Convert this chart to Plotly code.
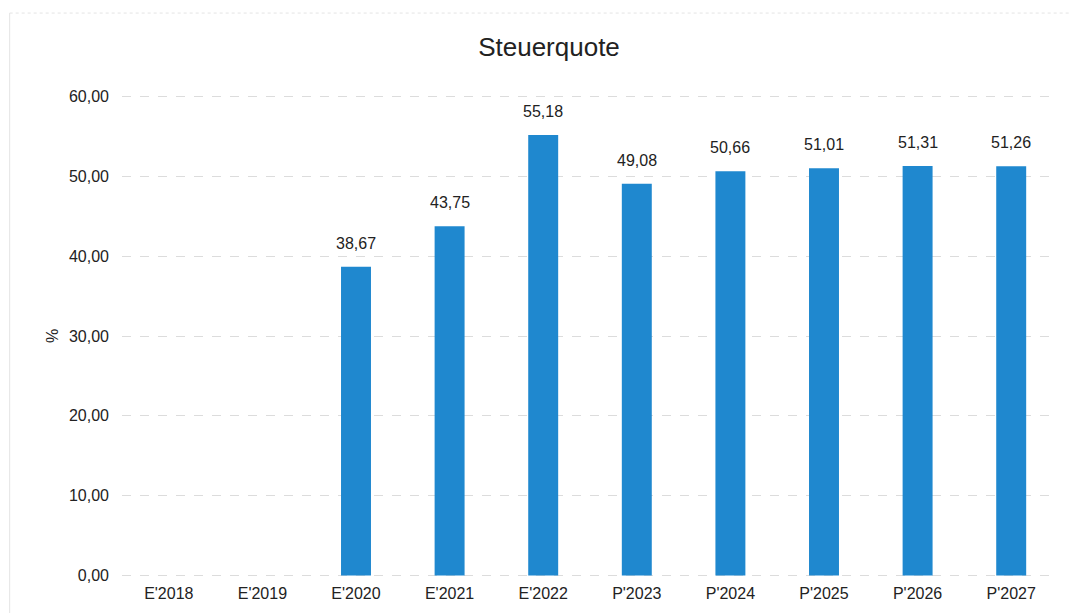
import plotly.graph_objects as go

categories = ["E'2018", "E'2019", "E'2020", "E'2021", "E'2022",
              "P'2023", "P'2024", "P'2025", "P'2026", "P'2027"]
values = [None, None, 38.67, 43.75, 55.18, 49.08, 50.66, 51.01, 51.31, 51.26]
y_ticks = [0, 10, 20, 30, 40, 50, 60]

fig = go.Figure(go.Bar(
    x=categories, y=values,
    marker=dict(color="#1f88cf", line=dict(width=0)),
    hoverinfo="x+y",
))

# value labels above bars, taken from the data arrays
for c, v in zip(categories, values):
    if v is None:
        continue
    fig.add_annotation(x=c, y=v, text=f"{v:.2f}".replace(".", ","), showarrow=False,
                       yanchor="bottom", yshift=13, font=dict(size=16, color="#222"))

# page body adds an 8px offset; margins compensate so plot area lands at screen 122..1058 x 97..575
fig.update_layout(
    width=1077, height=613,
    separators=",.",
    font=dict(family="Liberation Sans, Arial, sans-serif", size=15, color="#222"),
    title=dict(text="Steuerquote", x=541/1077, xanchor="center", y=1-39/613, yanchor="middle",
               font=dict(size=26, color="#222")),
    margin=dict(l=114, r=27, t=87, b=44),
    plot_bgcolor="white", paper_bgcolor="white",
    bargap=0.68,
    showlegend=False,
    xaxis=dict(type="category", showgrid=False, showline=False, ticks="",
               tickfont=dict(size=16), ticklabelstandoff=5),
    yaxis=dict(range=[-0.2, 60.2], tickvals=y_ticks, tickformat=".2f",
               showgrid=True, gridcolor="#dcdcdc", griddash="dash", gridwidth=1,
               zeroline=False, showline=False, ticks="",
               ticklabelstandoff=12,
               title=dict(text="%", standoff=6, font=dict(size=16)),
               tickfont=dict(size=16)),
)
fig.add_shape(type="line", xref="paper", yref="paper", x0=-0.12, x1=-0.12, y0=-0.1, y1=1.17,
              line=dict(color="#e4e4e4", width=1), layer="below")
fig.add_shape(type="line", xref="paper", yref="paper", x0=-0.12, x1=1.03, y0=1.17, y1=1.17,
              line=dict(color="#e4e4e4", width=1, dash="dot"), layer="below")
fig.write_html("out.html")
